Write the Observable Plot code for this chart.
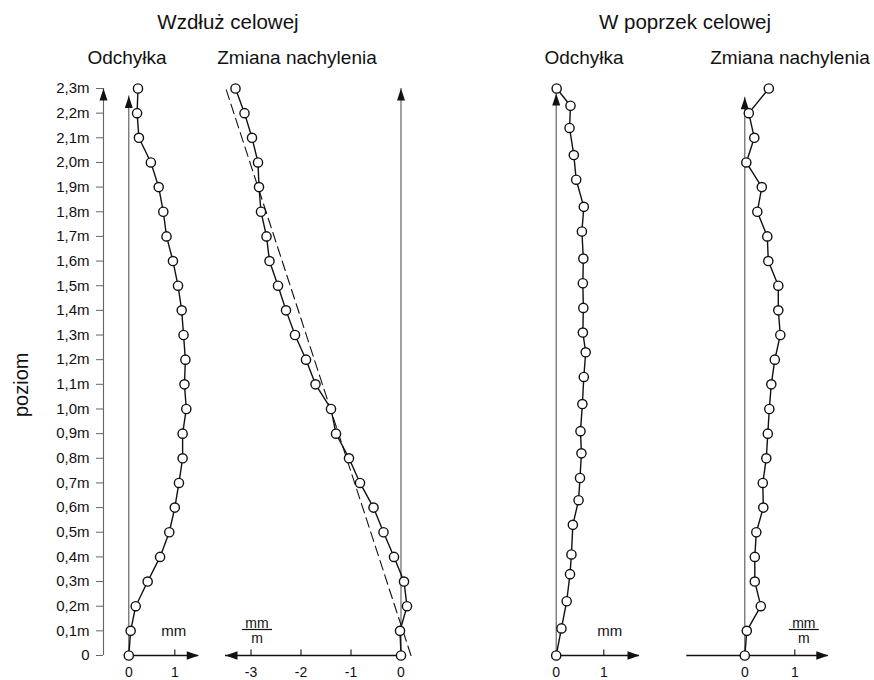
<!DOCTYPE html>
<html><head><meta charset="utf-8">
<script src="https://cdn.jsdelivr.net/npm/d3@7"></script>
<script src="https://cdn.jsdelivr.net/npm/@observablehq/plot@0.6"></script>
<style>
body{margin:0;background:#fff;font-family:"Liberation Sans",Arial,sans-serif;}
#chart{position:relative;width:874px;height:680px;overflow:hidden;background:#fff;}
.lbl{position:absolute;transform:translate(-50%,-50%);white-space:nowrap;color:#111;line-height:1;}
</style></head><body><div id="chart"></div>
<script>
// ---- data ----
const levels = [0,0.1,0.2,0.3,0.4,0.5,0.6,0.7,0.8,0.9,1.0,1.1,1.2,1.3,1.4,1.5,1.6,1.7,1.8,1.9,2.0,2.1,2.2,2.3];
const levelLabels = ["0","0,1m","0,2m","0,3m","0,4m","0,5m","0,6m","0,7m","0,8m","0,9m","1,0m","1,1m","1,2m","1,3m","1,4m","1,5m","1,6m","1,7m","1,8m","1,9m","2,0m","2,1m","2,2m","2,3m"];
// Wzdłuż celowej
const alongDeviation = [0,0.04,0.15,0.41,0.68,0.88,1.00,1.09,1.17,1.17,1.25,1.21,1.23,1.19,1.15,1.07,0.96,0.82,0.75,0.65,0.48,0.22,0.18,0.20];
const alongTilt = [0,-0.02,0.12,0.06,-0.14,-0.35,-0.55,-0.82,-1.04,-1.30,-1.40,-1.71,-1.90,-2.12,-2.30,-2.46,-2.63,-2.69,-2.80,-2.84,-2.86,-2.98,-3.13,-3.31];
const alongTrendTilt = [0.2,-3.52];
const alongTrendLevels = [0,2.31];
// W poprzek celowej
const acrossDevLevels = [0,0.11,0.22,0.33,0.41,0.53,0.63,0.72,0.82,0.91,1.02,1.13,1.23,1.31,1.41,1.51,1.61,1.72,1.82,1.93,2.03,2.14,2.23,2.30];
const acrossDeviation = [0,0.11,0.22,0.29,0.32,0.35,0.47,0.50,0.53,0.51,0.55,0.58,0.62,0.56,0.57,0.56,0.57,0.54,0.58,0.42,0.37,0.28,0.30,0.01];
const acrossTilt = [0,0.04,0.32,0.20,0.20,0.23,0.37,0.36,0.43,0.46,0.49,0.53,0.60,0.71,0.67,0.67,0.47,0.45,0.25,0.34,0.03,0.19,0.08,0.48];
// tick labels
const devTicks = [0,1];
const devTickLabels = ["0","1"];
const tiltAlongTicks = [-3,-2,-1,0];
const tiltAlongTickLabels = ["-3","-2","-1","0"];
const tiltAcrossTicks = [0,1];
const tiltAcrossTickLabels = ["0","1"];

// ---- helpers ----
const INK = "#111";
const AXIS = "#555";
const chart = document.getElementById("chart");
const H = 640, TOP = 40;
const yScale = {domain:[0,2.3], range:[615,48]};

const arrowUp = {draw(c){c.moveTo(0,0);c.lineTo(4,12);c.lineTo(-4,12);c.closePath();}};
const arrowRight = {draw(c){c.moveTo(0,0);c.lineTo(-12,-4.3);c.lineTo(-12,4.3);c.closePath();}};
const arrowLeft = {draw(c){c.moveTo(0,0);c.lineTo(12,-4.3);c.lineTo(12,4.3);c.closePath();}};
const tickUp = {draw(c){c.moveTo(0,0);c.lineTo(0,-6);}};
const fracBar = {draw(c){c.moveTo(-15,0);c.lineTo(15,0);}};

const zip = (xs, ys) => xs.map((v,i)=>({v, h: ys[i]}));
const fmt = (ticks, labels) => { const m = new Map(ticks.map((t,i)=>[t, labels[i]])); return d => m.get(d); };

function addPanel(left, width, x, marks, marginLeft = 0) {
  const svg = Plot.plot({
    width, height: H, marginTop: 48, marginBottom: 25, marginLeft, marginRight: 0,
    style: {background: "transparent", overflow: "visible", fontFamily: '"Liberation Sans", Arial, sans-serif', color: INK},
    x, y: {...yScale, axis: null},
    marks
  });
  svg.style.position = "absolute";
  svg.style.left = left + "px";
  svg.style.top = TOP + "px";
  chart.append(svg);
}
function title(text, x, y, size) {
  const d = document.createElement("div");
  d.className = "lbl"; d.textContent = text;
  d.style.left = x + "px"; d.style.top = y + "px"; d.style.fontSize = size + "px";
  chart.append(d);
}
function vAxis(top, xv = 0) {
  return [
    Plot.ruleX([{x: xv, y1: 0, y2: top}], {x: "x", y1: "y1", y2: "y2", stroke: AXIS, strokeWidth: 1.1}),
    Plot.dot([{x: xv, y: top}], {x: "x", y: "y", symbol: arrowUp, fill: INK, stroke: "none"})
  ];
}
function hAxis(x1, x2, head, tickVals) {
  return [
    Plot.ruleY([{y: 0, x1, x2}], {y: "y", x1: "x1", x2: "x2", stroke: INK, strokeWidth: 1.3}),
    Plot.dot([{x: x2, y: 0}], {x: "x", y: "y", symbol: head, fill: INK, stroke: "none"}),
    Plot.dot(tickVals.map(t => ({x: t, y: 0})), {x: "x", y: "y", symbol: tickUp, fill: "none", stroke: INK, strokeWidth: 1.1})
  ];
}
function series(data) {
  return [
    Plot.line(data, {x: "v", y: "h", stroke: INK, strokeWidth: 1.4}),
    Plot.dot(data, {x: "v", y: "h", r: 4.6, fill: "white", stroke: INK, strokeWidth: 1.4})
  ];
}
function xLabels(ticks, labels) {
  return Plot.axisX({ticks, tickFormat: fmt(ticks, labels), tickSize: 0, tickPadding: 12, fontSize: 14, fill: INK});
}
function unit(xv, dx, frac) {
  if (!frac) return [Plot.text(["mm"], {x: xv, y: 0, dx, dy: -24, fontSize: 15, fill: INK})];
  return [
    Plot.text(["mm"], {x: xv, y: 0, dx, dy: -32, fontSize: 14, fill: INK}),
    Plot.dot([{x: xv, y: 0}], {x: "x", y: "y", dx, dy: -26, symbol: fracBar, fill: "none", stroke: INK, strokeWidth: 1.2}),
    Plot.text(["m"], {x: xv, y: 0, dx, dy: -17, fontSize: 14, fill: INK})
  ];
}

// ---- level axis (left) ----
addPanel(0, 110, {domain: [0, 1], range: [103, 110], axis: null}, [
  Plot.axisY({ticks: levels, tickFormat: fmt(levels, levelLabels), tickSize: 7, tickPadding: 7, fontSize: 15, stroke: "#666", fill: INK}),
  Plot.ruleX([{x: 0, y1: 0, y2: 2.3}], {x: "x", y1: "y1", y2: "y2", stroke: "#666", strokeWidth: 1.1}),
  Plot.dot([{x: 0, y: 2.3}], {x: "x", y: "y", symbol: arrowUp, fill: INK, stroke: "none"}),
  Plot.text(["poziom"], {frameAnchor: "left", dx: -82, dy: 45, rotate: -90, fontSize: 20, fill: INK})
], 103);

// ---- Wzdłuż: Odchyłka ----
addPanel(110, 105, {domain: [0, 1], range: [128.3 - 110, 174.3 - 110]}, [
  ...vAxis(2.27),
  ...hAxis(0, 1.52, arrowRight, [1]),
  xLabels(devTicks, devTickLabels),
  ...unit(1, -1, false),
  ...series(zip(alongDeviation, levels))
]);

// ---- Wzdłuż: Zmiana nachylenia ----
addPanel(215, 225, {domain: [0, -3], range: [400.5 - 215, 250.5 - 215]}, [
  ...vAxis(2.3),
  ...hAxis(0, -3.51, arrowLeft, [-3, -2, -1]),
  xLabels(tiltAlongTicks, tiltAlongTickLabels),
  ...unit(-3, 6, true),
  Plot.line(zip(alongTrendTilt, alongTrendLevels), {x: "v", y: "h", stroke: INK, strokeWidth: 1.1, strokeDasharray: "10,5"}),
  ...series(zip(alongTilt, levels))
]);

// ---- W poprzek: Odchyłka ----
addPanel(500, 160, {domain: [0, 1], range: [555.7 - 500, 603.3 - 500]}, [
  ...vAxis(2.28),
  ...hAxis(0, 1.75, arrowRight, [1]),
  xLabels(devTicks, devTickLabels),
  ...unit(1, 6, false),
  ...series(zip(acrossDeviation, acrossDevLevels))
]);

// ---- W poprzek: Zmiana nachylenia ----
addPanel(660, 214, {domain: [0, 1], range: [744.3 - 660, 794.3 - 660]}, [
  ...vAxis(2.265),
  ...hAxis(-1.16, 1.67, arrowRight, [1]),
  xLabels(tiltAcrossTicks, tiltAcrossTickLabels),
  ...unit(1, 9, true),
  ...series(zip(acrossTilt, levels))
]);

// ---- titles ----
title("Wzdłuż celowej", 228, 22, 20.5);
title("W poprzek celowej", 685, 22, 20.5);
title("Odchyłka", 127, 57, 19);
title("Zmiana nachylenia", 297, 57, 19);
title("Odchyłka", 584, 57, 19);
title("Zmiana nachylenia", 790, 57, 19);
</script></body></html>
